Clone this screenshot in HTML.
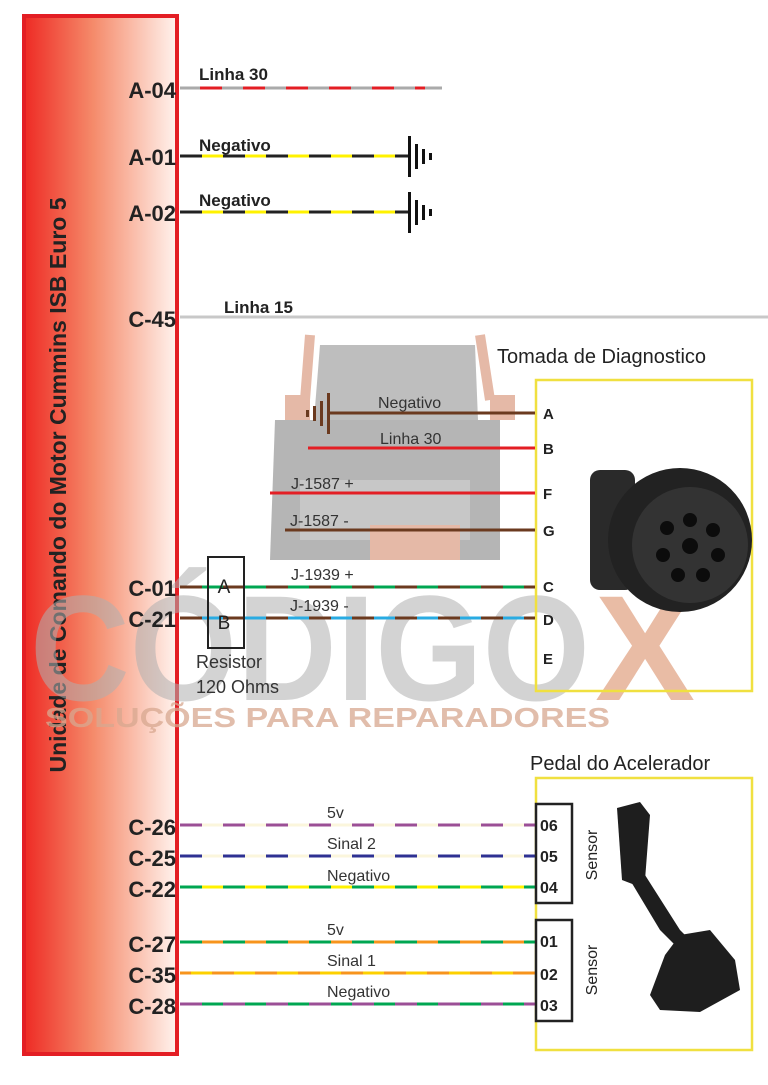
<!DOCTYPE html>
<html><head><meta charset="utf-8"><style>
html,body{margin:0;padding:0;background:#fff;}
svg{display:block;font-family:"Liberation Sans",sans-serif;}
</style></head><body>
<svg width="768" height="1085" viewBox="0 0 768 1085" xmlns="http://www.w3.org/2000/svg">
<defs>
<linearGradient id="rg" x1="0" x2="1" y1="0" y2="0">
<stop offset="0" stop-color="#ee2a24"/><stop offset="0.45" stop-color="#f58a6a"/><stop offset="1" stop-color="#fff3ee"/>
</linearGradient>
</defs>
<rect x="0" y="0" width="768" height="1085" fill="#fff"/>
<!-- watermark truck -->
<g opacity="0.55">
<path d="M320 345 L475 345 L480 470 L310 470 Z" fill="#8a8a8a"/>
<path d="M275 420 L500 420 L500 560 L270 560 Z" fill="#7a7a7a"/>
<rect x="300" y="480" width="170" height="60" fill="#9a9a9a"/>
<path d="M310 335 L305 400 M480 335 L490 400" stroke="#d08060" stroke-width="10"/>
<rect x="285" y="395" width="25" height="25" fill="#d08060"/>
<rect x="490" y="395" width="25" height="25" fill="#d08060"/>
<rect x="370" y="525" width="90" height="35" fill="#d08060"/>
</g>

<!-- ECU box -->
<rect x="24" y="16" width="153" height="1038" fill="url(#rg)" stroke="#e31e24" stroke-width="4"/>
<text transform="translate(66,485) rotate(-90)" text-anchor="middle" font-size="23" font-weight="bold" fill="#222">Unidade de Comando do Motor Cummins ISB Euro 5</text>

<text x="30" y="700" font-size="150" font-weight="bold" fill="#b0b0b0" opacity="0.55" textLength="560" lengthAdjust="spacingAndGlyphs">CÓDIGO</text>
<text x="595" y="700" font-size="150" font-weight="bold" fill="#e0a080" opacity="0.7">X</text>
<text x="45" y="727" font-size="28" font-weight="bold" fill="#d8a890" opacity="0.75" textLength="565" lengthAdjust="spacingAndGlyphs">SOLUÇÕES PARA REPARADORES</text>

<g font-size="22" font-weight="bold" fill="#222" text-anchor="end">
<text x="176" y="98">A-04</text><text x="176" y="165">A-01</text><text x="176" y="221">A-02</text>
<text x="176" y="327">C-45</text><text x="176" y="596">C-01</text><text x="176" y="627">C-21</text>
<text x="176" y="835">C-26</text><text x="176" y="866">C-25</text><text x="176" y="897">C-22</text>
<text x="176" y="952">C-27</text><text x="176" y="983">C-35</text><text x="176" y="1014">C-28</text>
</g>

<!-- top wires -->
<line x1="180" y1="88" x2="442" y2="88" stroke="#aaa" stroke-width="3"/>
<line x1="200" y1="88" x2="425" y2="88" stroke="#e31e24" stroke-width="3" stroke-dasharray="22 21"/>
<text x="199" y="80" font-size="17" font-weight="bold" fill="#222">Linha 30</text>
<g stroke-width="3">
<line x1="180" y1="156" x2="408" y2="156" stroke="#fff200"/>
<line x1="180" y1="156" x2="408" y2="156" stroke="#222" stroke-dasharray="22 21"/>
<line x1="180" y1="212" x2="408" y2="212" stroke="#fff200"/>
<line x1="180" y1="212" x2="408" y2="212" stroke="#222" stroke-dasharray="22 21"/>
</g>
<g fill="#111">
<rect x="408" y="136" width="3" height="41"/><rect x="415" y="144" width="3" height="25"/><rect x="422" y="149" width="3" height="15"/><rect x="429" y="153" width="3" height="7"/>
<rect x="408" y="192" width="3" height="41"/><rect x="415" y="200" width="3" height="25"/><rect x="422" y="205" width="3" height="15"/><rect x="429" y="209" width="3" height="7"/>
</g>
<text x="199" y="151" font-size="17" font-weight="bold" fill="#222">Negativo</text>
<text x="199" y="206" font-size="17" font-weight="bold" fill="#222">Negativo</text>
<line x1="180" y1="317" x2="768" y2="317" stroke="#c8c8c8" stroke-width="3"/>
<text x="224" y="313" font-size="17" font-weight="bold" fill="#222">Linha 15</text>

<!-- Diagnostic -->
<text x="497" y="363" font-size="20" fill="#222">Tomada de Diagnostico</text>
<rect x="536" y="380" width="216" height="311" fill="none" stroke="#f0e040" stroke-width="2.5"/>
<line x1="330" y1="413" x2="535" y2="413" stroke="#6b3a1f" stroke-width="3"/>
<g fill="#6b3a1f"><rect x="327" y="393" width="3" height="41"/><rect x="320" y="401" width="3" height="25"/><rect x="313" y="406" width="3" height="15"/><rect x="306" y="410" width="3" height="7"/></g>
<line x1="308" y1="448" x2="535" y2="448" stroke="#e31e24" stroke-width="3"/>
<line x1="270" y1="493" x2="535" y2="493" stroke="#e31e24" stroke-width="3"/>
<line x1="285" y1="530" x2="535" y2="530" stroke="#6b3a1f" stroke-width="3"/>
<line x1="180" y1="587" x2="535" y2="587" stroke="#00a651" stroke-width="3"/>
<line x1="180" y1="587" x2="535" y2="587" stroke="#6b3a1f" stroke-width="3" stroke-dasharray="22 21"/>
<line x1="180" y1="618" x2="535" y2="618" stroke="#29abe2" stroke-width="3"/>
<line x1="180" y1="618" x2="535" y2="618" stroke="#6b3a1f" stroke-width="3" stroke-dasharray="22 21"/>
<g font-size="16" fill="#333">
<text x="378" y="408">Negativo</text><text x="380" y="444">Linha 30</text>
<text x="291" y="489">J-1587 +</text><text x="290" y="526">J-1587  -</text>
<text x="291" y="580">J-1939 +</text><text x="290" y="611">J-1939  -</text>
</g>
<g font-size="15" font-weight="bold" fill="#222">
<text x="543" y="419">A</text><text x="543" y="454">B</text><text x="543" y="499">F</text><text x="543" y="536">G</text>
<text x="543" y="592">C</text><text x="543" y="625">D</text><text x="543" y="664">E</text>
</g>
<rect x="208" y="557" width="36" height="91" fill="none" stroke="#222" stroke-width="2"/>
<text x="224" y="593" font-size="19" fill="#222" text-anchor="middle">A</text>
<text x="224" y="629" font-size="19" fill="#222" text-anchor="middle">B</text>
<text x="196" y="668" font-size="18" fill="#333">Resistor</text>
<text x="196" y="693" font-size="18" fill="#333">120 Ohms</text>
<!-- connector -->
<g>
<rect x="590" y="470" width="45" height="120" rx="10" fill="#2a2a2a"/>
<circle cx="680" cy="540" r="72" fill="#222"/>
<circle cx="690" cy="545" r="58" fill="#333"/>
<g fill="#0c0c0c">
<circle cx="690" cy="546" r="8"/><circle cx="690" cy="520" r="7"/><circle cx="713" cy="530" r="7"/><circle cx="718" cy="555" r="7"/>
<circle cx="703" cy="575" r="7"/><circle cx="678" cy="575" r="7"/><circle cx="663" cy="555" r="7"/><circle cx="667" cy="528" r="7"/>
</g>
</g>

<!-- Pedal -->
<text x="530" y="770" font-size="20" fill="#222">Pedal do Acelerador</text>
<rect x="536" y="778" width="216" height="272" fill="none" stroke="#f0e040" stroke-width="2.5"/>
<g stroke-width="3">
<line x1="180" y1="825" x2="535" y2="825" stroke="#fbf6dc"/>
<line x1="180" y1="825" x2="535" y2="825" stroke="#9b4f96" stroke-dasharray="22 21"/>
<line x1="180" y1="856" x2="535" y2="856" stroke="#fbf6dc"/>
<line x1="180" y1="856" x2="535" y2="856" stroke="#2e3192" stroke-dasharray="22 21"/>
<line x1="180" y1="887" x2="535" y2="887" stroke="#fff200"/>
<line x1="180" y1="887" x2="535" y2="887" stroke="#00a651" stroke-dasharray="22 21"/>
<line x1="180" y1="942" x2="535" y2="942" stroke="#f7941d"/>
<line x1="180" y1="942" x2="535" y2="942" stroke="#00a651" stroke-dasharray="22 21"/>
<line x1="180" y1="973" x2="535" y2="973" stroke="#fdd000"/>
<line x1="180" y1="973" x2="535" y2="973" stroke="#f7941d" stroke-dasharray="22 21" stroke-dashoffset="11"/>
<line x1="180" y1="1004" x2="535" y2="1004" stroke="#00a651"/>
<line x1="180" y1="1004" x2="535" y2="1004" stroke="#9b4f96" stroke-dasharray="22 21"/>
</g>
<g font-size="16" fill="#333">
<text x="327" y="818">5v</text><text x="327" y="849">Sinal 2</text><text x="327" y="881">Negativo</text>
<text x="327" y="935">5v</text><text x="327" y="966">Sinal 1</text><text x="327" y="997">Negativo</text>
</g>
<rect x="536" y="804" width="36" height="99" fill="#fff" stroke="#222" stroke-width="2.5"/>
<rect x="536" y="920" width="36" height="101" fill="#fff" stroke="#222" stroke-width="2.5"/>
<g font-size="16" font-weight="bold" fill="#222">
<text x="540" y="831">06</text><text x="540" y="862">05</text><text x="540" y="893">04</text>
<text x="540" y="947">01</text><text x="540" y="980">02</text><text x="540" y="1011">03</text>
</g>
<text transform="translate(597,855) rotate(-90)" text-anchor="middle" font-size="16" fill="#222">Sensor</text>
<text transform="translate(597,970) rotate(-90)" text-anchor="middle" font-size="16" fill="#222">Sensor</text>
<!-- pedal image -->
<g fill="#1e1e1e">
<path d="M617 808 L640 802 L650 815 L645 880 L635 885 L622 880 Z"/>
<path d="M630 880 L645 875 L680 930 L700 950 L690 960 L660 930 Z"/>
<path d="M680 935 L710 930 L735 960 L740 990 L700 1012 L660 1010 L650 995 L665 955 Z"/>
</g>
</svg>
</body></html>
